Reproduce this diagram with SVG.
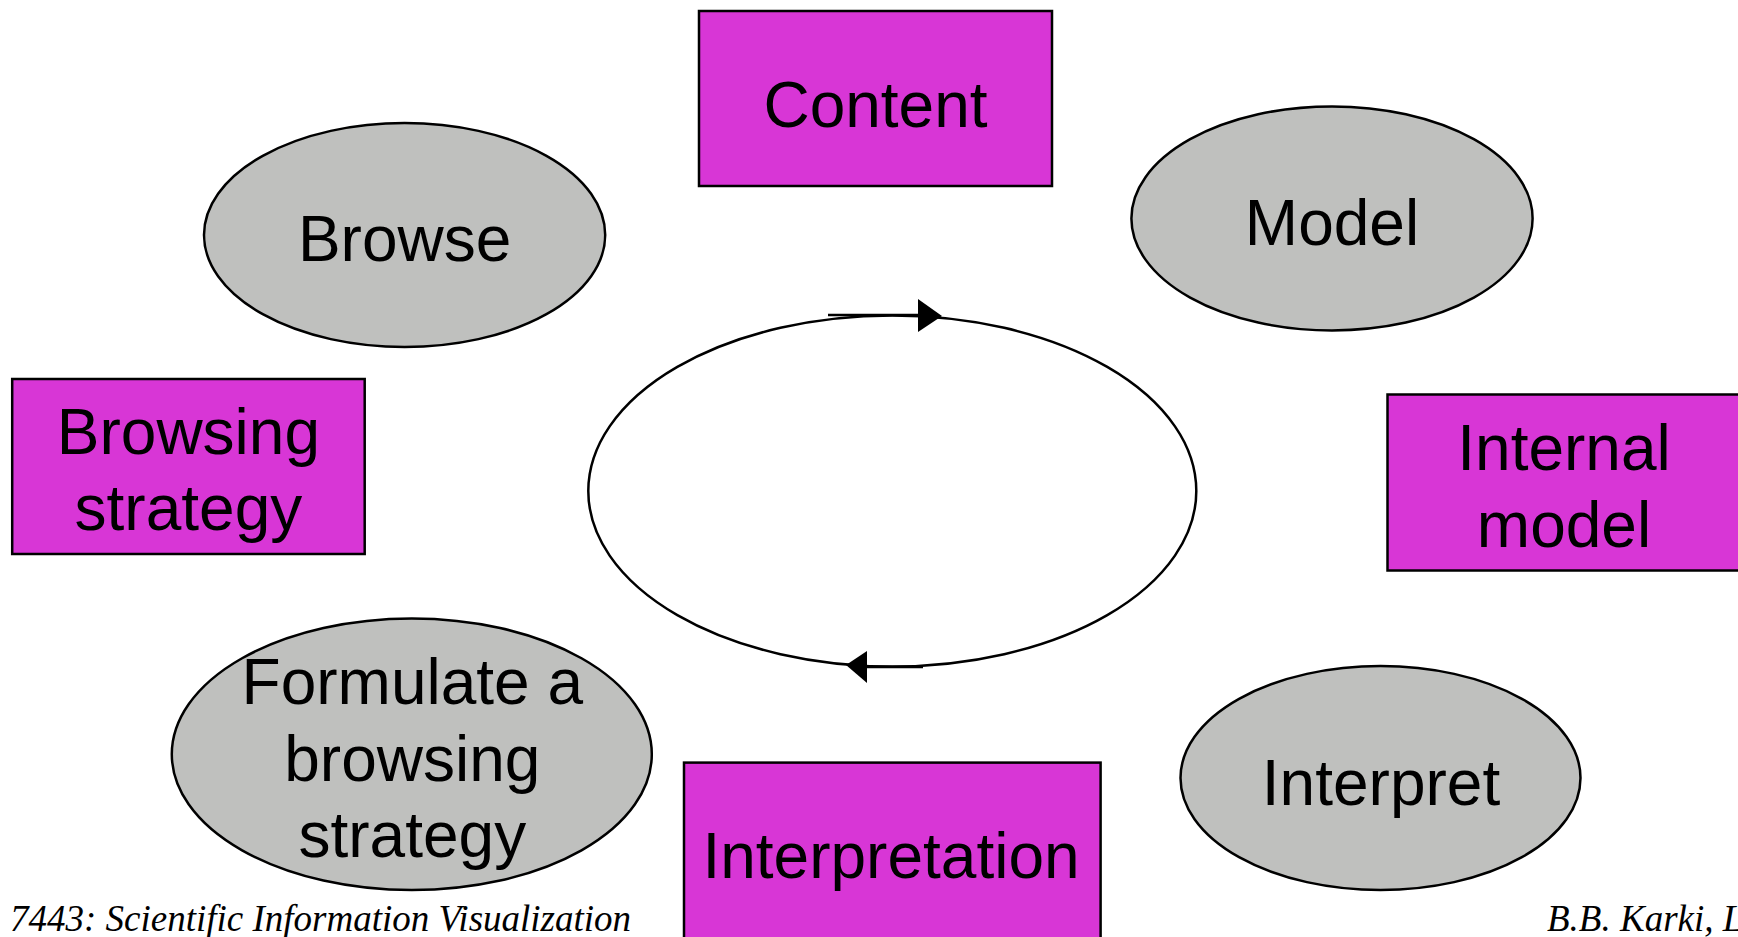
<svg xmlns="http://www.w3.org/2000/svg" width="1738" height="937" viewBox="0 0 1738 937">
<style>
.box{fill:#D836D6;stroke:#000;stroke-width:2.5}
.oval{fill:#BFC0BE;stroke:#000;stroke-width:2.5}
.lbl{font-family:"Liberation Sans",Arial,sans-serif;font-size:64px;fill:#000;text-anchor:middle}
.foot{font-family:"Liberation Serif","Times New Roman",serif;font-style:italic;font-size:37px;fill:#000}
.ln{fill:none;stroke:#000;stroke-width:2.5}
</style>
<rect width="1738" height="937" fill="#fff"/>
<g id="content"><rect class="box" x="699" y="11" width="353" height="175"/><text class="lbl" x="875.5" y="127">Content</text></g>
<g id="browse"><ellipse class="oval" cx="404.6" cy="235" rx="200.6" ry="112"/><text class="lbl" x="404.6" y="261">Browse</text></g>
<g id="model"><ellipse class="oval" cx="1332" cy="218.4" rx="200.6" ry="112"/><text class="lbl" x="1332" y="245">Model</text></g>
<g id="browsing-strategy"><rect class="box" x="12.2" y="379" width="352.5" height="175"/><text class="lbl" x="188.4" y="454">Browsing</text><text class="lbl" x="188.4" y="530">strategy</text></g>
<g id="internal-model"><rect class="box" x="1387.5" y="394.5" width="360" height="176"/><text class="lbl" x="1564" y="470">Internal</text><text class="lbl" x="1564" y="547">model</text></g>
<g id="formulate"><ellipse class="oval" cx="411.8" cy="754.3" rx="240" ry="135.8"/><text class="lbl" x="412.3" y="704">Formulate a</text><text class="lbl" x="412.3" y="781">browsing</text><text class="lbl" x="412.3" y="857">strategy</text></g>
<g id="interpretation"><rect class="box" x="684" y="762.6" width="416.6" height="190"/><text class="lbl" x="891" y="878">Interpretation</text></g>
<g id="interpret"><ellipse class="oval" cx="1380.5" cy="778" rx="200" ry="112"/><text class="lbl" x="1381" y="805">Interpret</text></g>
<g id="connectors">
<ellipse class="ln" cx="892.3" cy="491" rx="304" ry="175.5"/>
<line class="ln" x1="828" y1="315" x2="922" y2="315"/>
<polygon points="918,299 942,316 918,332" fill="#000"/>
<line class="ln" x1="923" y1="667" x2="865" y2="667"/>
<polygon points="867,651 846,665 867,683" fill="#000"/>
</g>
<text class="foot" x="10" y="931">7443: Scientific Information Visualization</text>
<text class="foot" x="1547" y="931">B.B. Karki, L</text>
</svg>
